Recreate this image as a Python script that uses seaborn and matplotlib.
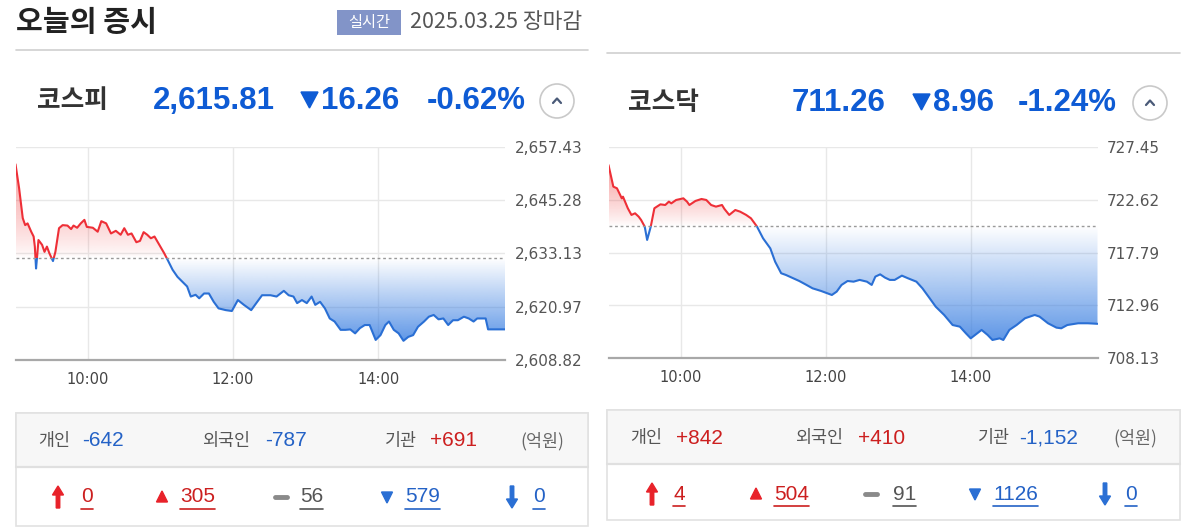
import numpy as np
import pandas as pd
import matplotlib
matplotlib.use("Agg")
import matplotlib.pyplot as plt
import seaborn as sns
from matplotlib.patches import Rectangle, Circle, FancyArrow

# ---------------- data ----------------
kospi_times = ["09:00", "09:03", "09:06", "09:08", "09:10", "09:13", "09:15", "09:16", "09:17", "09:18",
               "09:19", "09:22", "09:24", "09:26", "09:28", "09:31", "09:33", "09:36", "09:39", "09:43",
               "09:46", "09:48", "09:51", "09:54", "09:57", "09:59", "10:04", "10:08", "10:11", "10:15",
               "10:19", "10:23", "10:27", "10:30", "10:33", "10:36", "10:40", "10:43", "10:46", "10:49",
               "10:52", "10:55", "10:59", "11:03", "11:06", "11:10", "11:14", "11:18", "11:22", "11:25",
               "11:29", "11:32", "11:36", "11:40", "11:44", "11:48", "11:54", "11:59", "12:04", "12:09",
               "12:15", "12:20", "12:24", "12:31", "12:36", "12:42", "12:46", "12:50", "12:53", "12:57",
               "13:01", "13:05", "13:08", "13:12", "13:16", "13:20", "13:24", "13:29", "13:33", "13:37",
               "13:41", "13:45", "13:49", "13:53", "13:58", "14:02", "14:06", "14:09", "14:13", "14:17",
               "14:21", "14:25", "14:29", "14:33", "14:38", "14:42", "14:46", "14:50", "14:54", "14:58",
               "15:02", "15:06", "15:11", "15:15", "15:19", "15:22", "15:29", "15:31", "15:45"]
kospi_values = [2653.5, 2648.0, 2641.2, 2639.6, 2640.0, 2638.1, 2637.0, 2634.7, 2629.7, 2632.8,
                2636.2, 2635.1, 2633.5, 2634.7, 2633.2, 2631.4, 2633.5, 2638.9, 2639.6, 2639.5,
                2638.7, 2639.5, 2639.0, 2640.0, 2640.8, 2639.2, 2639.0, 2638.1, 2640.5, 2640.0,
                2637.7, 2638.3, 2637.4, 2638.9, 2637.4, 2637.7, 2635.7, 2636.0, 2638.0, 2637.4,
                2636.6, 2637.0, 2635.1, 2633.2, 2631.6, 2629.4, 2627.8, 2626.7, 2625.6, 2623.3,
                2623.7, 2622.9, 2624.0, 2624.0, 2622.1, 2620.6, 2620.2, 2620.0, 2622.5, 2621.4,
                2620.2, 2622.1, 2623.6, 2623.6, 2623.3, 2624.6, 2623.6, 2623.3, 2621.8, 2622.5,
                2621.8, 2623.3, 2621.4, 2622.1, 2620.6, 2618.3, 2617.6, 2615.7, 2615.7, 2615.8,
                2614.9, 2616.1, 2616.8, 2616.8, 2613.4, 2614.5, 2616.8, 2617.6, 2615.7, 2614.9,
                2613.2, 2614.1, 2614.5, 2616.4, 2617.6, 2618.7, 2619.1, 2618.1, 2618.3, 2616.8,
                2617.9, 2617.9, 2618.7, 2618.3, 2617.6, 2618.3, 2618.3, 2615.81, 2615.81]
kospi_prev_close = 2632.07
kospi_ticks = [2608.82, 2620.97, 2633.13, 2645.28, 2657.43]

kosdaq_times = ["09:00", "09:04", "09:07", "09:11", "09:12", "09:16", "09:19", "09:22", "09:25", "09:27",
                "09:30", "09:32", "09:35", "09:38", "09:43", "09:47", "09:50", "09:52", "09:56", "10:02",
                "10:05", "10:07", "10:12", "10:17", "10:21", "10:25", "10:29", "10:34", "10:36", "10:40",
                "10:45", "10:49", "10:54", "10:58", "11:03", "11:08", "11:14", "11:18", "11:23", "11:27",
                "11:33", "11:38", "11:44", "11:49", "11:56", "12:05", "12:09", "12:13", "12:18", "12:23",
                "12:28", "12:34", "12:38", "12:41", "12:45", "12:49", "12:53", "12:57", "13:03", "13:08",
                "13:15", "13:20", "13:26", "13:31", "13:38", "13:45", "13:51", "13:56", "14:00", "14:09",
                "14:14", "14:18", "14:24", "14:27", "14:32", "14:38", "14:45", "14:53", "14:57", "15:04",
                "15:11", "15:15", "15:20", "15:29", "15:37", "15:45"]
kosdaq_values = [725.80, 723.82, 723.67, 722.75, 722.90, 721.84, 721.23, 721.38, 721.07, 720.77,
                 720.16, 718.94, 720.16, 721.84, 722.20, 722.14, 722.45, 722.29, 722.60, 722.75,
                 722.45, 722.14, 722.51, 722.69, 722.60, 722.14, 721.99, 722.14, 721.78, 721.23,
                 721.68, 721.53, 721.23, 720.92, 720.16, 719.09, 718.17, 716.95, 715.89, 715.73,
                 715.43, 715.18, 714.82, 714.51, 714.27, 713.90, 714.21, 714.82, 715.18, 715.12,
                 715.28, 715.12, 714.82, 715.58, 715.79, 715.49, 715.28, 715.28, 715.67, 715.43,
                 715.12, 714.51, 713.60, 712.83, 712.07, 711.15, 711.00, 710.39, 709.93, 710.70,
                 710.24, 709.78, 709.93, 709.78, 710.70, 711.15, 711.77, 712.07, 711.92, 711.31,
                 710.91, 710.85, 711.15, 711.31, 711.31, 711.26]
kosdaq_prev_close = 720.22
kosdaq_ticks = [708.13, 712.96, 717.79, 722.62, 727.45]

time_ticks = ["10:00", "12:00", "14:00"]
session_start = "09:00"
session_end = "15:45"

title = "오늘의 증시"
badge = "실시간"
date_text = "2025.03.25 장마감"

index_names = ["코스피", "코스닥"]
index_close = ["2,615.81", "711.26"]
index_change = ["16.26", "8.96"]
index_pct = ["-0.62%", "-1.24%"]

investor_labels = ["개인", "외국인", "기관"]
kospi_investors = ["-642", "-787", "+691"]
kosdaq_investors = ["+842", "+410", "-1,152"]
unit_label = "(억원)"
# upper limit, up, unchanged, down, lower limit
kospi_breadth = ["0", "305", "56", "579", "0"]
kosdaq_breadth = ["4", "504", "91", "1126", "0"]

# ---------------- style ----------------
sns.set_style("white")
plt.rcParams["font.family"] = ["DejaVu Sans"]
KR = ["Noto Sans CJK KR", "DejaVu Sans"]
NUM = ["Liberation Sans", "DejaVu Sans"]

RED_LINE = "#ee2f37"
BLUE_LINE = "#2a6fd4"
HEAD_BLUE = "#0e5bd4"
TXT_RED = "#cc1f1f"
TXT_BLUE = "#2462c6"
GRAY = "#555555"

W, H = 1193, 531
fig = plt.figure(figsize=(W / 100, H / 100), dpi=100)
fig.patch.set_facecolor("white")
bg = fig.add_axes([0, 0, 1, 1])
bg.set_xlim(0, W)
bg.set_ylim(H, 0)
bg.axis("off")
renderer = fig.canvas.get_renderer()


def minutes(t):
    h, m = map(int, t.split(":"))
    return (h - 9) * 60 + m


def txt(x, y, s, size, color, weight="normal", family=KR, ha="left", underline=False):
    t = bg.text(x, y, s, fontsize=size, color=color, fontweight=weight, family=family,
                ha=ha, va="center", zorder=5)
    if underline:
        bb = t.get_window_extent(renderer=renderer)
        bg.plot([bb.x0, bb.x1], [y + 12, y + 12], color=color, lw=1.2, zorder=5)
    return t


def draw_chart(rect_px, times, values, prev, ticks):
    l, t, r, b = rect_px
    ax = fig.add_axes([l / W, 1 - b / H, (r - l) / W, (b - t) / H])
    df = pd.DataFrame({"t": [minutes(x) for x in times], "v": values})
    x0, x1 = minutes(session_start), minutes(session_end)
    ymin, ymax = ticks[0], ticks[-1]

    # gradient fill between line and previous close
    n = 500
    yy = np.linspace(ymin, ymax, n)
    img = np.ones((n, 1, 4))
    vmax, vmin = max(values), min(values)
    red = np.array([240, 70, 70]) / 255
    blue = np.array([55, 125, 225]) / 255
    for i, y in enumerate(yy):
        if y >= prev:
            a = 0.5 * min(1.0, (y - prev) / (vmax - prev)) ** 0.8
            img[i, 0, :3] = red
        else:
            a = 0.8 * min(1.0, (prev - y) / (prev - vmin))
            img[i, 0, :3] = blue
        img[i, 0, 3] = a
    poly = ax.fill_between(df["t"], df["v"], prev, facecolor="none", edgecolor="none")
    im = ax.imshow(img, extent=[x0, x1, ymin, ymax], origin="lower", aspect="auto",
                   interpolation="bilinear", zorder=1)
    im.set_clip_path(poly.get_paths()[0], transform=ax.transData)

    # line, red above / blue below previous close
    sns.lineplot(data=df, x="t", y="v", ax=ax, color=RED_LINE, lw=1.5, zorder=3)
    ln = ax.lines[-1]
    ln.set_clip_path(Rectangle((x0, prev), x1 - x0, ymax - prev + 5, transform=ax.transData))
    sns.lineplot(data=df, x="t", y="v", ax=ax, color=BLUE_LINE, lw=1.5, zorder=3)
    ln = ax.lines[-1]
    ln.set_clip_path(Rectangle((x0, ymin - 5), x1 - x0, prev - ymin + 5, transform=ax.transData))

    ax.axhline(prev, color="#9a9a9a", ls=(0, (2, 2)), lw=1.0, zorder=4)

    ax.set_xlim(x0, x1)
    ax.set_ylim(ymin, ymax)
    ax.set_xlabel("")
    ax.set_ylabel("")
    ax.set_xticks([minutes(x) for x in time_ticks])
    ax.set_xticklabels(time_ticks)
    ax.set_yticks(ticks)
    ax.set_yticklabels([f"{v:,.2f}" for v in ticks])
    ax.yaxis.tick_right()
    ax.tick_params(axis="y", length=0, pad=7, labelsize=11, labelcolor=GRAY)
    ax.tick_params(axis="x", direction="in", length=7, width=1, color="#999999",
                   pad=9, labelsize=10.5, labelcolor="#444444")
    ax.grid(True, color="#e8e8e8", lw=1.0, zorder=0)
    ax.set_axisbelow(True)
    for s in ["top", "left", "right"]:
        ax.spines[s].set_visible(False)
    ax.spines["bottom"].set_color("#a8a8a8")
    ax.spines["bottom"].set_linewidth(1.6)
    ax.set_facecolor("none")
    return ax


# ---------------- header ----------------
txt(16, 22, title, 21, "#222222", weight="bold")
bg.add_patch(Rectangle((337, 10), 64, 25, facecolor="#8294c8", edgecolor="none", zorder=4))
txt(369, 22.5, badge, 11, "white", ha="center")
txt(410, 22, date_text, 15.5, GRAY)
bg.plot([16, 588], [50, 50], color="#cfcfcf", lw=1.2)
bg.plot([607, 1180], [53, 53], color="#cfcfcf", lw=1.2)


def index_header(x_name, x_close, x_tri, x_chg, x_pct, x_circ, y, i):
    txt(x_name, y, index_names[i], 18.5, "#333333", weight="bold")
    txt(x_close, y, index_close[i], 22.5, HEAD_BLUE, weight="bold", family=NUM)
    bg.fill([x_tri, x_tri + 17, x_tri + 8.5], [y - 9, y - 9, y + 7], color=HEAD_BLUE, zorder=5)
    txt(x_chg, y, index_change[i], 22.5, HEAD_BLUE, weight="bold", family=NUM)
    txt(x_pct, y, index_pct[i], 22.5, HEAD_BLUE, weight="bold", family=NUM)
    bg.add_patch(Circle((x_circ, y), 17, facecolor="white", edgecolor="#c9c9c9", lw=1.2, zorder=4))
    bg.plot([x_circ - 4, x_circ, x_circ + 4], [y + 2, y - 2.5, y + 2], color="#4a5a78", lw=1.6,
            zorder=5, solid_capstyle="round")


index_header(37, 153, 301, 321, 427, 557, 101, 0)
index_header(628, 792, 913, 933, 1018, 1150, 103, 1)

# ---------------- charts ----------------
draw_chart((15.5, 147, 505, 360), kospi_times, kospi_values, kospi_prev_close, kospi_ticks)
draw_chart((608.5, 147, 1097.5, 358), kosdaq_times, kosdaq_values, kosdaq_prev_close, kosdaq_ticks)


# ---------------- investor / breadth boxes ----------------
def info_box(x0, x1, top, mid, bottom, inv, breadth, row1_y, row2_y, pos):
    bg.add_patch(Rectangle((x0, top), x1 - x0, bottom - top, facecolor="white",
                           edgecolor="#e2e2e2", lw=1.2, zorder=2))
    bg.add_patch(Rectangle((x0, top), x1 - x0, mid - top, facecolor="#f7f7f7",
                           edgecolor="#e2e2e2", lw=1.2, zorder=2))
    bg.plot([x0, x1], [mid, mid], color="#e0e0e0", lw=1.6, zorder=3)
    lab_x, val_x = pos["lab"], pos["val"]
    for k in range(3):
        txt(lab_x[k], row1_y, investor_labels[k], 12.5, GRAY)
        col = TXT_RED if inv[k].startswith("+") else TXT_BLUE
        txt(val_x[k], row1_y, inv[k], 15, col, family=NUM)
    txt(pos["unit"], row1_y, unit_label, 12.5, "#666666")

    ix, nx = pos["icon"], pos["num"]
    y = row2_y
    bg.add_patch(FancyArrow(ix[0], y + 11, 0, -22, width=3.5, head_width=11, head_length=9,
                            length_includes_head=True, color="#e8222a", zorder=5))
    bg.fill([ix[1] - 5.5, ix[1] + 5.5, ix[1]], [y + 5, y + 5, y - 6], color="#e8222a", zorder=5)
    bg.plot([ix[2] - 6, ix[2] + 6], [y, y], color="#8a8a8a", lw=3.5, zorder=5)
    bg.fill([ix[3] - 5.5, ix[3] + 5.5, ix[3]], [y - 5, y - 5, y + 6], color="#2a6fd4", zorder=5)
    bg.add_patch(FancyArrow(ix[4], y - 11, 0, 22, width=3.5, head_width=11, head_length=9,
                            length_includes_head=True, color="#2a6fd4", zorder=5))
    cols = [TXT_RED, TXT_RED, GRAY, TXT_BLUE, TXT_BLUE]
    for k in range(5):
        txt(nx[k], y, breadth[k], 15, cols[k], family=NUM, underline=True)


info_box(16, 588, 413, 467, 526, kospi_investors, kospi_breadth, 441, 497,
         {"lab": [38, 202, 385], "val": [82, 265, 430], "unit": 520,
          "icon": [58, 162, 281, 387, 512], "num": [81, 180, 300, 405, 533]})
info_box(607, 1180, 410, 464, 520, kosdaq_investors, kosdaq_breadth, 438, 494,
         {"lab": [630, 795, 978], "val": [676, 858, 1019], "unit": 1113,
          "icon": [652, 756, 871, 975, 1105], "num": [673, 774, 893, 993, 1125]})

fig.savefig("out.png", dpi=100, facecolor="white")
